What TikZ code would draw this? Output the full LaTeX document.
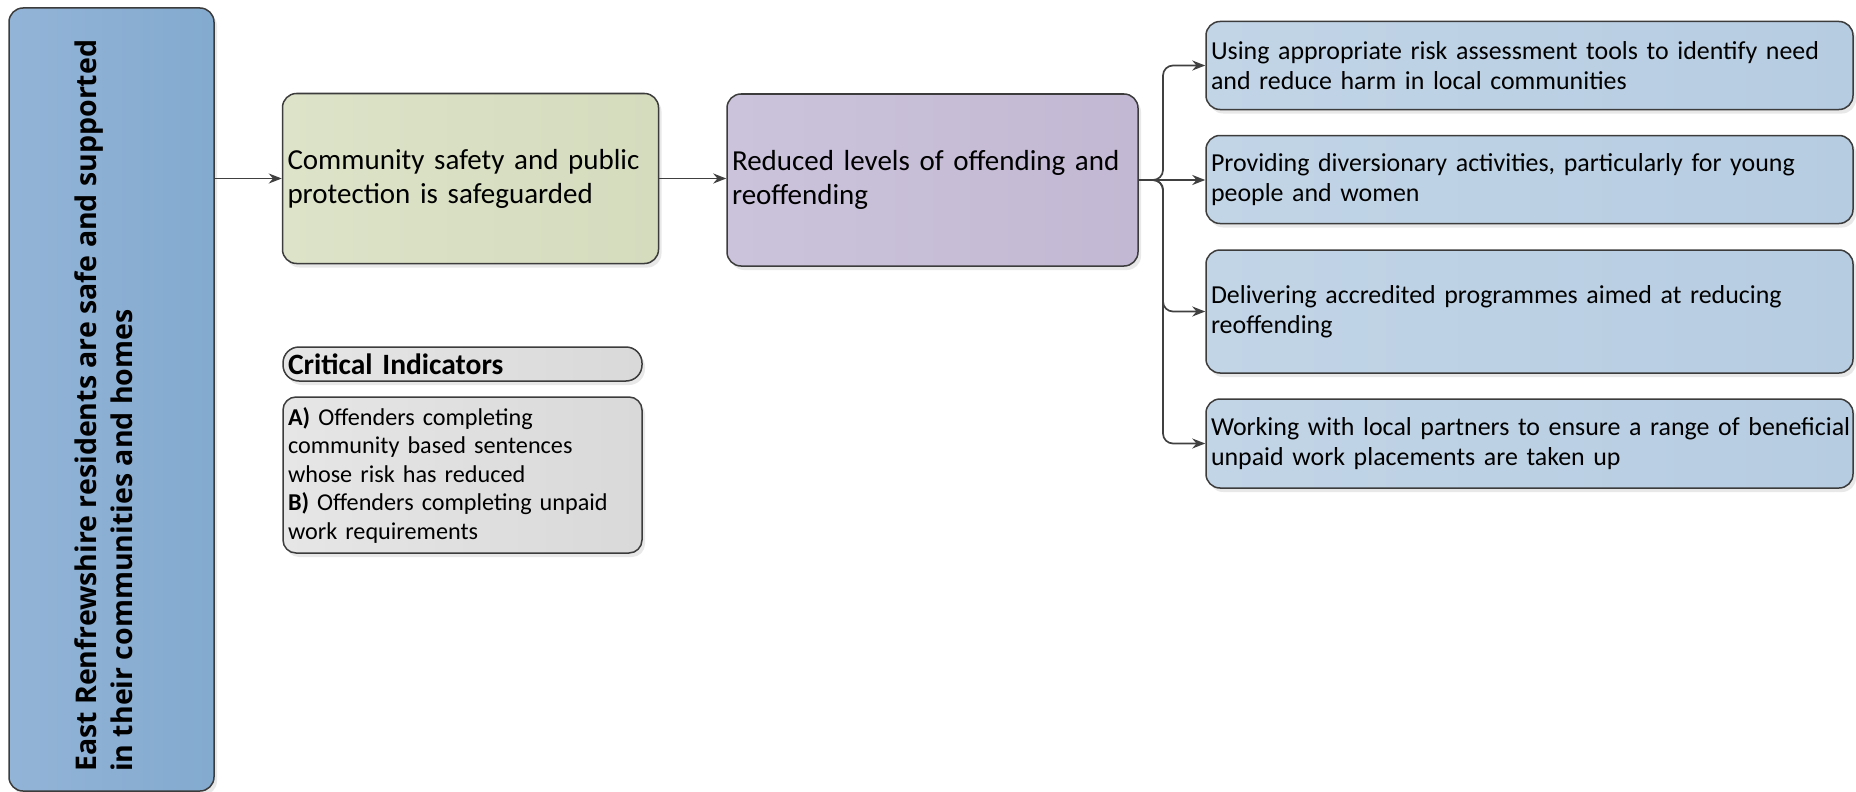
\documentclass[tikz,border=0pt]{standalone}
\usepackage{fontspec}
\setmainfont{Carlito}
\newfontfamily\osans{Open Sans}
\usetikzlibrary{shadows,arrows.meta}
\definecolor{bordc}{HTML}{3C3C3C}
\definecolor{linec}{HTML}{404040}
\definecolor{blueA}{HTML}{92B4D7}
\definecolor{blueB}{HTML}{83AACF}
\definecolor{greenA}{HTML}{DDE3C8}
\definecolor{greenB}{HTML}{D5DBBD}
\definecolor{purpA}{HTML}{CBC3DB}
\definecolor{purpB}{HTML}{C3B8D3}
\definecolor{lblueA}{HTML}{C2D5E7}
\definecolor{lblueB}{HTML}{B6CCE1}
\definecolor{grayA}{HTML}{E6E6E6}
\definecolor{grayB}{HTML}{D9D9D9}
\tikzset{
  boxbase/.style={draw=bordc, line width=1.5pt, rounded corners=14pt, inner sep=0pt,
    drop shadow={shadow xshift=3pt, shadow yshift=-4pt, opacity=0.15, fill=black!60}},
  textbox/.style={boxbase, align=left, inner xsep=5pt},
  mainbox/.style={textbox, font=\fontsize{29}{34}\selectfont},
  actbox/.style={textbox, font=\fontsize{25.9}{29.5}\selectfont, left color=lblueA, right color=lblueB,
    minimum width=645pt, text width=637pt},
  conn/.style={draw=linec, line width=1.7pt, -{Stealth[length=13pt,width=10pt]}},
}
\begin{document}
\begin{tikzpicture}[x=1pt,y=-1pt]
\useasboundingbox (0,0) rectangle (1856,792);
% left outcome box
\node[boxbase, left color=blueA, right color=blueB, minimum width=205pt, minimum height=783pt] (L) at (111.5,399.5) {};
\node[rotate=90, anchor=west, align=left, inner sep=0pt, font=\osans\bfseries\fontsize{28.5}{36}\selectfont] (Ltext) at (104,772)
  {East Renfrewshire residents are safe and supported\\in their communities and homes};
% green
\node[mainbox, left color=greenA, right color=greenB, minimum width=376pt, minimum height=170pt, text width=366pt] (g) at (470.5,178.5)
  {Community safety and public\\protection is safeguarded};
% purple
\node[mainbox, left color=purpA, right color=purpB, minimum width=411pt, minimum height=172pt, text width=401pt] (p) at (932.5,180)
  {Reduced levels of offending and\\reoffending};
% critical indicators
\node[textbox, rounded corners=16pt, left color=grayA, right color=grayB, minimum width=359pt, minimum height=34pt, text width=349pt,
  font=\bfseries\fontsize{29.5}{34}\selectfont] (ci) at (462.5,364) {Critical Indicators};
\node[textbox, rounded corners=13pt, left color=grayA, right color=grayB, minimum width=359pt, minimum height=156pt, text width=349pt,
  font=\fontsize{24.2}{28.5}\selectfont] (cd) at (462.5,475)
  {\textbf{A)} Offenders completing\\community based sentences\\whose risk has reduced\\\textbf{B)} Offenders completing unpaid\\work requirements};
% right boxes
\node[actbox, minimum height=88pt] (r1) at (1529.5,65.5)
  {Using appropriate risk assessment tools to identify need\\and reduce harm in local communities};
\node[actbox, minimum height=88pt] (r2) at (1529.5,179.5)
  {Providing diversionary activities, particularly for young\\people and women};
\node[actbox, minimum height=123pt] (r3) at (1529.5,311.5)
  {Delivering accredited programmes aimed at reducing\\reoffending};
\node[actbox, minimum height=89pt] (r4) at (1529.5,443.5)
  {\mbox{Working with local partners to ensure a range of beneficial}\\unpaid work placements are taken up};
% connectors
\draw[conn] (g.west -| L.east) -- (g.west);
\draw[conn] (g.east) -- (g.east -| p.west);
\coordinate (j) at (1163,180);
\draw[conn, rounded corners=10pt] (p.east) -- (j) |- (r1.west);
\draw[conn] (p.east) -- (p.east -| r2.west);
\draw[conn, rounded corners=10pt] (p.east) -- (j) |- (r3.west);
\draw[conn, rounded corners=10pt] (p.east) -- (j) |- (r4.west);
\end{tikzpicture}
\end{document}
